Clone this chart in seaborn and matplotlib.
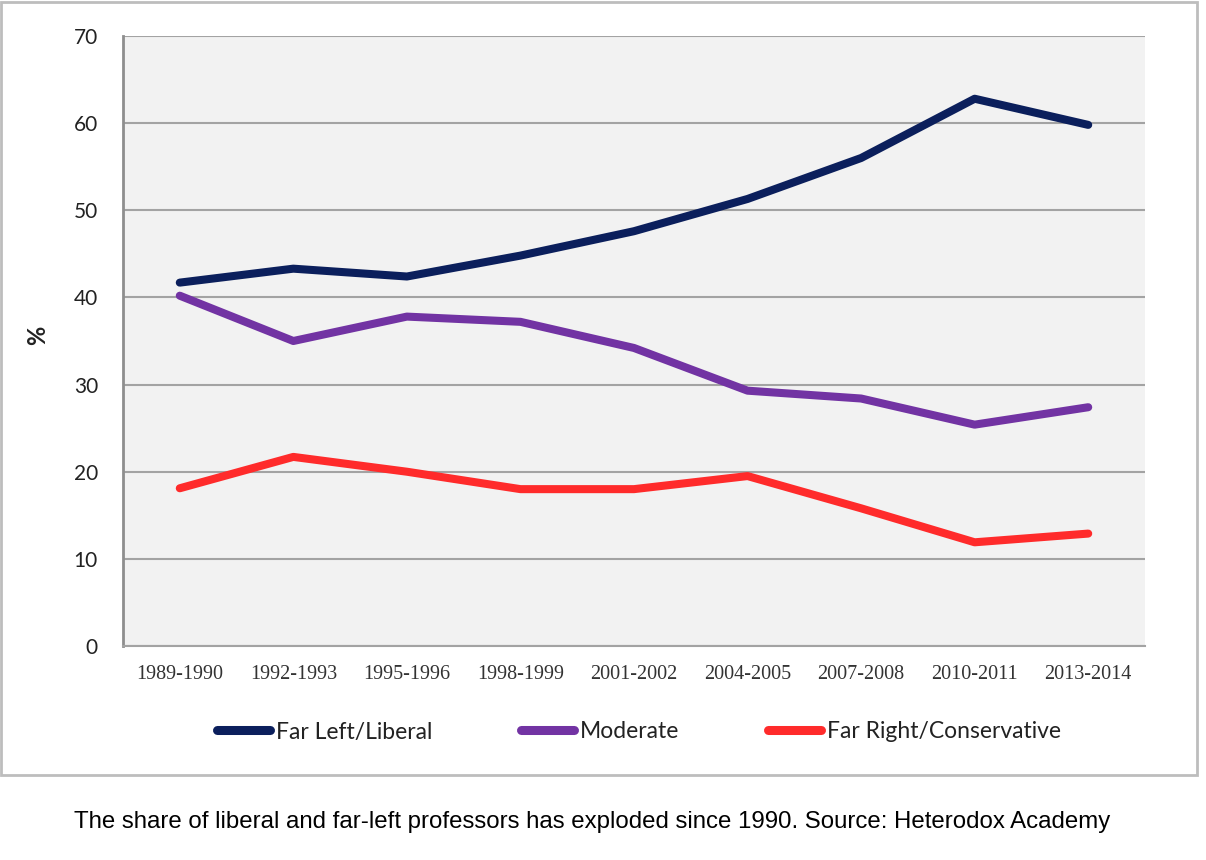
import matplotlib
matplotlib.use("Agg")
import matplotlib.pyplot as plt
import matplotlib.patches as mpatches
import seaborn as sns
import pandas as pd

# Survey periods and share of professors (%) per group
periods = ["1989-1990", "1992-1993", "1995-1996", "1998-1999", "2001-2002",
           "2004-2005", "2007-2008", "2010-2011", "2013-2014"]
far_left = [41.7, 43.3, 42.4, 44.8, 47.6, 51.3, 56.0, 62.8, 59.8]
moderate = [40.2, 35.0, 37.8, 37.2, 34.2, 29.3, 28.4, 25.4, 27.4]
far_right = [18.1, 21.7, 20.0, 18.0, 18.0, 19.5, 15.8, 11.9, 12.9]
series_names = ["Far Left/Liberal", "Moderate", "Far Right/Conservative"]
y_ticks = [0, 10, 20, 30, 40, 50, 60, 70]

COLORS = ["#0b1f5c", "#7233a3", "#ff2b2b"]
GRID = "#a3a3a3"

df = pd.DataFrame({
    "period": periods * 3,
    "value": far_left + moderate + far_right,
    "group": [series_names[0]] * 9 + [series_names[1]] * 9 + [series_names[2]] * 9,
})
df["pos"] = df["period"].map({p: i for i, p in enumerate(periods)})

sns.set_style("white")
plt.rcParams["font.family"] = ["Lato", "DejaVu Sans"]

fig = plt.figure(figsize=(12.06, 8.6), dpi=100)
ax = fig.add_axes([123 / 1206, 1 - 646 / 860, (1145 - 123) / 1206, (646 - 36) / 860])
ax.set_facecolor("#f2f2f2")

sns.lineplot(data=df, x="pos", y="value", hue="group", palette=COLORS,
             linewidth=5.8, ax=ax, legend=False)
for ln in ax.lines:
    ln.set_solid_capstyle("round")
    ln.set_solid_joinstyle("round")

ax.set_xlim(-0.5, len(periods) - 0.5)
ax.set_ylim(0, 70)
ax.set_yticks(y_ticks)
ax.set_yticklabels([str(t) for t in y_ticks], fontsize=15, color="#222222")
ax.set_xticks(range(len(periods)))
ax.set_xticklabels(periods, fontsize=14.5, color="#333333", family="Liberation Serif")
ax.set_xticks([i - 0.5 for i in range(len(periods) + 1)], minor=True)
ax.tick_params(axis="x", which="major", length=0, pad=14)
ax.tick_params(axis="x", which="minor", length=6, width=1.5, color=GRID, direction="out")
ax.tick_params(axis="y", length=10, width=1.5, color=GRID, direction="out", pad=8)
ax.grid(axis="y", color=GRID, linewidth=1.5)
ax.set_axisbelow(True)
ax.set_xlabel("")
ax.set_ylabel("%", fontsize=17, fontweight="bold", color="#222222")
ax.yaxis.set_label_coords((49 - 123) / (1145 - 123), (646 - 335) / (646 - 36))

for s in ["top", "right"]:
    ax.spines[s].set_visible(False)
ax.spines["left"].set_color("#8e8e8e")
ax.spines["left"].set_linewidth(2)
ax.spines["bottom"].set_color(GRID)
ax.spines["bottom"].set_linewidth(1.5)

handles = [plt.Line2D([], [], color=c, lw=6.5, solid_capstyle="round") for c in COLORS]
leg = fig.legend(handles, series_names, loc="center", ncol=3, frameon=False,
                 bbox_to_anchor=(639 / 1206, 1 - 732 / 860), fontsize=16.5,
                 handlelength=2.3, handletextpad=0.25, columnspacing=3.9)
for t in leg.get_texts():
    t.set_color("#222222")

# outer chart border
fig.patches.append(mpatches.Rectangle((1 / 1206, 1 - 775 / 860), 1196 / 1206, 773 / 860,
                                      transform=fig.transFigure, fill=False,
                                      edgecolor="#bdbdbd", linewidth=2))

fig.text(592 / 1206, 1 - 822 / 860,
         "The share of liberal and far-left professors has exploded since 1990. Source: Heterodox Academy",
         ha="center", va="center", fontsize=17.3, family="Liberation Sans", color="black")

fig.savefig("out.png", dpi=100, facecolor="white")
